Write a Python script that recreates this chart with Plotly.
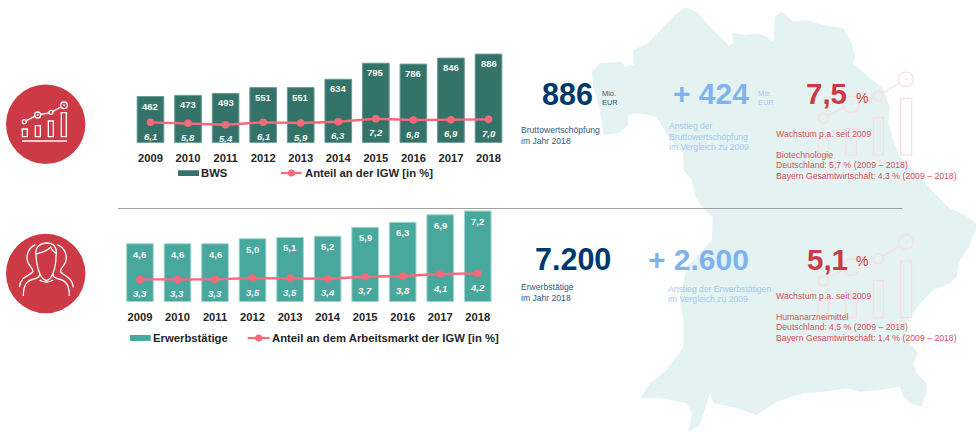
import re
import plotly.graph_objects as go

W, H = 976, 432
FONT = "Liberation Sans"

years = ["2009", "2010", "2011", "2012", "2013", "2014", "2015", "2016", "2017", "2018"]
bws = [462, 473, 493, 551, 551, 634, 795, 786, 846, 886]
bws_share = [6.1, 5.8, 5.4, 6.1, 5.9, 6.3, 7.2, 6.8, 6.9, 7.0]
workers = [4.6, 4.6, 4.6, 5.0, 5.1, 5.2, 5.9, 6.3, 6.9, 7.2]
workers_share = [3.3, 3.3, 3.3, 3.5, 3.5, 3.4, 3.7, 3.8, 4.1, 4.2]

DARK_GREEN = "#33736a"
TEAL = "#49a89d"
LINE = "#f8697c"
RED = "#cc3a46"
NAVY = "#00386b"
LIGHT = "#7fb2ee"
MAP = "#e4f3f1"
GHOST = "#fbdcdd"

# decorative Bavaria silhouette (page pixels of a 3x crop with origin 560,0)
map_outline = [(95,215),(120,190),(185,185),(195,200),(220,195),(220,150),(265,130),(310,80),(345,45),(375,22),
    (410,35),(445,75),(480,110),(505,135),(520,130),(515,98),(555,105),(590,100),(610,105),(640,125),(645,50),
    (665,35),(700,65),(740,60),(790,75),(850,85),(875,130),(885,170),(880,190),(930,235),(965,260),(990,320),
    (985,370),(1000,420),(1020,470),(1070,520),(1120,575),(1170,625),(1215,645),(1248,670),(1248,690),(1225,745),
    (1195,790),(1190,830),(1170,850),(1120,870),(1090,900),(1050,950),(1030,990),(1050,1030),(1075,1060),(1060,1090),
    (1070,1120),(1100,1150),(1100,1175),(1085,1220),(1060,1215),(1030,1190),(1020,1160),(960,1170),(900,1175),
    (860,1165),(790,1175),(730,1180),(650,1205),(590,1245),(530,1225),(460,1210),(450,1180),(420,1275),(385,1296),
    (395,1240),(380,1210),(300,1195),(240,1195),(270,1150),(320,1110),(370,1040),(370,960),(360,900),(380,800),
    (420,760),(455,720),(458,650),(430,625),(405,590),(395,540),(370,510),(370,460),(330,420),(290,350),(235,340),
    (205,345),(205,375),(175,400),(130,405),(120,330),(100,260)]


def px(x):
    return x / W


def py(y):
    return 1 - y / H


shapes = []
annotations = []


def paper_shape(**kw):
    kw.setdefault("xref", "paper")
    kw.setdefault("yref", "paper")
    shapes.append(kw)


def rect(x0, y0, x1, y1, fill=None, line=None, lw=1, layer="below"):
    paper_shape(type="rect", x0=px(x0), x1=px(x1), y0=py(y1), y1=py(y0),
                fillcolor=fill or "rgba(0,0,0,0)", line=dict(color=line or "rgba(0,0,0,0)", width=lw if line else 0),
                layer=layer)


def circle(cx, cy, r, fill=None, line=None, lw=1, layer="below"):
    paper_shape(type="circle", x0=px(cx - r), x1=px(cx + r), y0=py(cy + r), y1=py(cy - r),
                fillcolor=fill or "rgba(0,0,0,0)", line=dict(color=line or "rgba(0,0,0,0)", width=lw if line else 0),
                layer=layer)


def seg(x0, y0, x1, y1, color, lw=1, layer="below"):
    paper_shape(type="line", x0=px(x0), x1=px(x1), y0=py(y0), y1=py(y1), line=dict(color=color, width=lw), layer=layer)


def path(d, ox, oy, color, lw=1.2, scale=1 / 3):
    def sub(m):
        x = ox + float(m.group(1)) * scale
        y = oy + float(m.group(2)) * scale
        return f"{px(x):.5f},{py(y):.5f}"
    paper_shape(type="path", path=re.sub(r"([\d.]+),([\d.]+)", sub, d), line=dict(color=color, width=lw),
                fillcolor="rgba(0,0,0,0)", layer="below")


def label(x, y, text, size=8.6, color="#333333", bold=False, italic=False, anchor="left", yref=None, xref=None, yshift=0):
    t = text
    if bold:
        t = f"<b>{t}</b>"
    if italic:
        t = f"<i>{t}</i>"
    annotations.append(dict(x=x if xref else px(x), y=y if yref else py(y), xref=xref or "paper", yref=yref or "paper",
                            text=t, showarrow=False, xanchor=anchor, yanchor="middle", yshift=yshift, borderpad=0, borderwidth=0,
                            font=dict(family=FONT, size=size, color=color)))


# background map
d = "M" + " L".join(f"{560 + a / 3:.1f},{b / 3:.1f}" for a, b in map_outline) + " Z"
path(d, 0, 0, "rgba(0,0,0,0)", lw=0, scale=1)
shapes[-1]["fillcolor"] = MAP

# ghost icons over the map
for off in (0, 488):
    ox, oy = 560, off / 3
    for a, b, r in [(790, 355, 15), (873, 313, 25), (955, 288, 15), (1038, 238, 22)]:
        circle(ox + a / 3, oy + b / 3, r / 3, line=GHOST, lw=1.2)
    for a0, b0, a1, b1 in [(775, 415, 805, 465), (857, 385, 889, 465), (940, 353, 970, 465), (1022, 295, 1055, 465)]:
        rect(ox + a0 / 3, oy + b0 / 3, ox + a1 / 3, oy + b1 / 3, line=GHOST, lw=1.2)
    for a0, b0, a1, b1 in [(803, 347, 851, 322), (897, 308, 941, 295), (968, 280, 1019, 249)]:
        seg(ox + a0 / 3, oy + b0 / 3, ox + a1 / 3, oy + b1 / 3, GHOST, 1.2)
    circle(ox + 873 / 3, oy + 313 / 3, 1, fill=GHOST)
    circle(ox + 1038 / 3, oy + 238 / 3, 1, fill=GHOST)

# separator
seg(118, 208.5, 902.5, 208.5, "#a0a0a0", 1)

# red badge with chart icon
circle(45.7, 124.3, 39.7, fill=RED)
ox, oy = 0, 75
for a0, b0, a1, b1 in [(67, 162, 82, 185), (106, 152, 121, 185), (145, 138, 160, 185), (184, 113, 199, 185)]:
    rect(a0 / 3, oy + b0 / 3, a1 / 3, oy + b1 / 3, line="white", lw=1.3)
seg(22, oy + 198 / 3, 67, oy + 198 / 3, "white", 1.3)
for a, b, r in [(73, 140, 6), (113, 120, 9), (153, 112, 6), (192, 91, 10)]:
    circle(a / 3, oy + b / 3, r / 3, line="white", lw=1.3)
for a0, b0, a1, b1 in [(79, 137, 104, 124), (122, 118, 147, 114), (159, 109, 183, 96)]:
    seg(a0 / 3, oy + b0 / 3, a1 / 3, oy + b1 / 3, "white", 1.3)
circle(113 / 3, oy + 120 / 3, 1, fill="white")
circle(192 / 3, oy + 91 / 3, 1, fill="white")

# red badge with person icon
circle(45.7, 273.5, 39.7, fill=RED)
oy = 230
person = [
    "M108,72 C103,52 122,39 140,39 C162,39 173,54 168,78 C168,115 155,150 139,151 C122,150 109,112 108,72",
    "M108,72 C125,68 142,62 152,52 C156,62 162,67 168,70",
    "M106,44 C88,52 78,72 82,92 C85,108 102,115 98,126 C88,138 60,140 58,172",
    "M172,44 C192,52 202,72 198,92 C195,108 178,115 182,126 C192,138 218,142 220,172",
    "M70,198 C70,168 78,152 102,147 C116,144 119,140 119,133",
    "M208,198 C208,168 200,152 176,147 C162,144 159,140 159,133",
    "M119,150 C128,158 150,158 159,150",
]
for p in person:
    path(p, 0, oy, "white", lw=1.3)

# legends
LEG = 11.3
rect(178, 170.3, 199, 176, fill=DARK_GREEN)
label(201, 173.3, "BWS", LEG, "#262626", bold=True)
seg(281, 173, 301.7, 173, LINE, 2.2, layer="above")
circle(291.5, 173, 3.6, fill=LINE, layer="above")
label(305, 173.3, "Anteil an der IGW [in %]", LEG, "#262626", bold=True)
rect(130, 335, 150.7, 341, fill=TEAL)
label(152.7, 337.7, "Erwerbstätige", LEG, "#262626", bold=True)
seg(247.7, 338, 269.7, 338, LINE, 2.2, layer="above")
circle(258.7, 338, 3.6, fill=LINE, layer="above")
label(271.7, 337.7, "Anteil an dem Arbeitsmarkt der IGW [in %]", LEG, "#262626", bold=True)

# KPI texts
SOFT = "#33597e"
SOFT_LIGHT = "#a5c9f2"
SOFT_RED = "#d4505c"
label(567, 94.3, "886", 30.5, NAVY, bold=True, anchor="center")
label(602.3, 93, "Mio.", 7.4, SOFT)
label(602.3, 102, "EUR", 7.4, SOFT)
label(520.5, 130, "Bruttowertschöpfung", 8.6, SOFT)
label(520.5, 141, "im Jahr 2018", 8.6, SOFT)
label(673, 94, "+ 424", 30, LIGHT, bold=True)
label(758, 93, "Mio.", 7.4, SOFT_LIGHT)
label(758, 102, "EUR", 7.4, SOFT_LIGHT)
label(669.3, 126, "Anstieg der", 8.6, SOFT_LIGHT)
label(669.3, 137.3, "Bruttowertschöpfung", 8.6, SOFT_LIGHT)
label(669.3, 147, "im Vergleich zu 2009", 8.6, SOFT_LIGHT)
label(806, 94, "7,5", 29.5, RED, bold=True)
label(855.7, 98, "%", 14, RED)
label(776, 134, "Wachstum p.a. seit 2009", 8.7, SOFT_RED)
label(776, 154.7, "Biotechnologie", 8.7, SOFT_RED)
label(776, 165.3, "Deutschland: 5,7 % (2009 – 2018)", 8.7, SOFT_RED)
label(776, 176, "Bayern Gesamtwirtschaft: 4,3 % (2009 – 2018)", 8.7, SOFT_RED)

label(573.3, 259.3, "7.200", 30.5, NAVY, bold=True, anchor="center")
label(520.5, 287.3, "Erwerbstätige", 8.6, SOFT)
label(520.5, 297.7, "im Jahr 2018", 8.6, SOFT)
label(648, 259.5, "+ 2.600", 30, LIGHT, bold=True)
label(668, 289, "Anstieg der Erwerbstätigen", 8.6, SOFT_LIGHT)
label(668, 299, "im Vergleich zu 2009", 8.6, SOFT_LIGHT)
label(806.5, 259.5, "5,1", 29.5, RED, bold=True)
label(855.7, 261, "%", 14, RED)
label(776, 295.7, "Wachstum p.a. seit 2009", 8.7, SOFT_RED)
label(776, 316.7, "Humanarzneimittel", 8.7, SOFT_RED)
label(776, 327, "Deutschland: 4,5 % (2009 – 2018)", 8.7, SOFT_RED)
label(776, 337.7, "Bayern Gesamtwirtschaft: 1,4 % (2009 – 2018)", 8.7, SOFT_RED)

# bar / line value labels
for i, (v, s) in enumerate(zip(bws, bws_share)):
    label(i, v, str(v), 9.5, "#f4f8f7", bold=True, anchor="center", xref="x", yref="y", yshift=-9.5)
    label(i, s, f"{s:.1f}".replace(".", ","), 9.5, "#f4f8f7", bold=True, italic=True, anchor="center", xref="x", yref="y2", yshift=-14)
for i, (v, s) in enumerate(zip(workers, workers_share)):
    t = f"{v:.1f}".replace(".", ",")
    label(i, v, t, 9.5, "#f4f8f7", bold=True, anchor="center", xref="x2", yref="y3", yshift=-10.5)
    label(i, s, f"{s:.1f}".replace(".", ","), 9.5, "#f4f8f7", bold=True, italic=True, anchor="center", xref="x2", yref="y4", yshift=-14)

fig = go.Figure()
fig.add_bar(x=years, y=bws, xaxis="x", yaxis="y", name="BWS", width=0.71,
            marker=dict(color=DARK_GREEN, line=dict(color="#6b9a93", width=1)))
fig.add_scatter(x=years, y=bws_share, xaxis="x", yaxis="y2", name="Anteil an der IGW [in %]", mode="lines+markers",
                line=dict(color=LINE, width=2.4), marker=dict(color=LINE, size=7.5))
fig.add_bar(x=years, y=workers, xaxis="x2", yaxis="y3", name="Erwerbstätige", width=0.71,
            marker=dict(color=TEAL, line=dict(color="#a5d6cf", width=1)))
fig.add_scatter(x=years, y=workers_share, xaxis="x2", yaxis="y4", name="Anteil an dem Arbeitsmarkt der IGW [in %]",
                mode="lines+markers", line=dict(color=LINE, width=2.4), marker=dict(color=LINE, size=7.5))

tick = dict(family=FONT, size=11.2, color="#262626", weight="bold")
xbase = dict(type="category", showgrid=False, zeroline=False, showline=False, ticks="", tickfont=tick,
             range=[-0.5, 9.5], ticklabelstandoff=7, fixedrange=True)
ybase = dict(visible=False, showgrid=False, zeroline=False, fixedrange=True)
fig.update_layout(
    width=W, height=H, autosize=False, margin=dict(l=0, r=0, t=0, b=0), showlegend=False,
    paper_bgcolor="white", plot_bgcolor="rgba(0,0,0,0)", bargap=0.29,
    font=dict(family=FONT),
    xaxis=dict(domain=[px(131.7), px(507.3)], anchor="y", **xbase),
    xaxis2=dict(domain=[px(121.2), px(496.5)], anchor="y3", **xbase),
    yaxis=dict(domain=[py(142.7), py(42.7)], range=[0, 1000], anchor="x", **ybase),
    yaxis2=dict(domain=[py(142.7), py(42.7)], range=[0, 30], anchor="x", overlaying="y", **ybase),
    yaxis3=dict(domain=[py(301.7), py(200.9)], range=[0, 8], anchor="x2", **ybase),
    yaxis4=dict(domain=[py(301.7), py(200.9)], range=[0, 14.93], anchor="x2", overlaying="y3", **ybase),
    shapes=shapes, annotations=annotations,
)
fig.write_html("out.html", config=dict(displayModeBar=False),
               post_script="document.body.style.margin='0';")
